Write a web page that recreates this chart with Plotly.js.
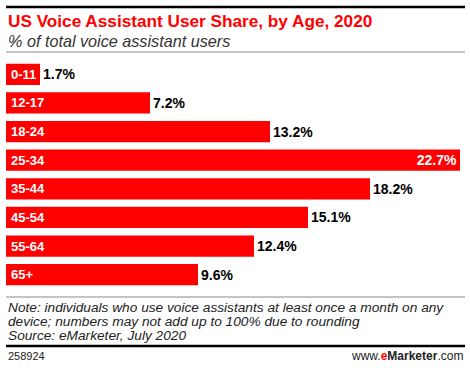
<!DOCTYPE html>
<html><head><meta charset="utf-8">
<script src="https://cdn.plot.ly/plotly-3.0.1.min.js"></script>
<style>html,body{margin:0;padding:0;background:#fff}#c{width:470px;height:368px}</style>
</head><body><div id="c"></div>
<script>
const categories = ["0-11","12-17","18-24","25-34","35-44","45-54","55-64","65+"];
const values = [1.7,7.2,13.2,22.7,18.2,15.1,12.4,9.6];
const valueLabels = ["1.7%","7.2%","13.2%","22.7%","18.2%","15.1%","12.4%","9.6%"];
const noteLines = ["Note: individuals who use voice assistants at least once a month on any",
  "device; numbers may not add up to 100% due to rounding",
  "Source: eMarketer, July 2020"];

const W=470,H=368,L=6,R=465,T=60,B=289;
const px=x=>(x-L)/(R-L), py=y=>(B-y)/(B-T);
const maxV=Math.max(...values);
const FONT="Liberation Sans, Arial, sans-serif";

const trace={
  type:'bar', orientation:'h', x:values, y:categories,
  marker:{color:'#ff0000',line:{width:0}},
  text:valueLabels,
  textposition:values.map(v=>v===maxV?'inside':'outside'),
  insidetextanchor:'end',
  textfont:{family:FONT,size:14,color:values.map(v=>v===maxV?'#ffffff':'#000000'),weight:'bold'},
  constraintext:'none', cliponaxis:false, hoverinfo:'none'
};

const ann=categories.map(c=>({x:0,y:c,xref:'x',yref:'y',xanchor:'left',yanchor:'middle',xshift:3,
  text:'<b>'+c+'</b>',showarrow:false,font:{family:FONT,size:13,color:'#ffffff'}}));
ann.push(
 {xref:'paper',yref:'paper',x:px(6),y:py(21),xanchor:'left',yanchor:'middle',showarrow:false,
  text:'<b>US Voice Assistant User Share, by Age, 2020</b>',font:{family:FONT,size:17.2,color:'#ff0000'}},
 {xref:'paper',yref:'paper',x:px(6),y:py(41),xanchor:'left',yanchor:'middle',showarrow:false,
  text:'<i>% of total voice assistant users</i>',font:{family:FONT,size:16.2,color:'#333333'}},
 {xref:'paper',yref:'paper',x:px(6),y:py(356),xanchor:'left',yanchor:'middle',showarrow:false,
  text:'258924',font:{family:FONT,size:11,color:'#222222'}},
 {xref:'paper',yref:'paper',x:px(465),y:py(356),xanchor:'right',yanchor:'middle',showarrow:false,
  text:'www.<b><span style="color:#ff0000">e</span>Marketer</b>.com',font:{family:FONT,size:12,color:'#222222'}}
);
noteLines.forEach((t,i)=>ann.push({xref:'paper',yref:'paper',x:px(6),y:py(307+i*14),xanchor:'left',yanchor:'middle',
  showarrow:false,text:'<i>'+t+'</i>',font:{family:FONT,size:13.7,color:'#222222'}}));

const shapes=[
 {type:'line',xref:'paper',yref:'paper',x0:px(6),x1:px(465),y0:py(7),y1:py(7),line:{color:'#000',width:2.5}},
 {type:'line',xref:'paper',yref:'paper',x0:px(6),x1:px(465),y0:py(52),y1:py(52),line:{color:'#888',width:1}},
 {type:'line',xref:'paper',yref:'paper',x0:px(6),x1:px(465),y0:py(297),y1:py(297),line:{color:'#888',width:1}},
 {type:'line',xref:'paper',yref:'paper',x0:px(6),x1:px(465),y0:py(346),y1:py(346),line:{color:'#000',width:2.5}}
];

const layout={
  width:W,height:H,margin:{l:L,r:W-R,t:T,b:H-B,pad:0},
  paper_bgcolor:'#fff',plot_bgcolor:'#fff',showlegend:false,bargap:0.26,
  xaxis:{range:[0,(R-L)/20],visible:false,fixedrange:true},
  yaxis:{type:'category',autorange:'reversed',visible:false,fixedrange:true},
  annotations:ann,shapes:shapes,font:{family:FONT}
};
Plotly.newPlot('c',[trace],layout,{staticPlot:true,displayModeBar:false});
</script></body></html>
